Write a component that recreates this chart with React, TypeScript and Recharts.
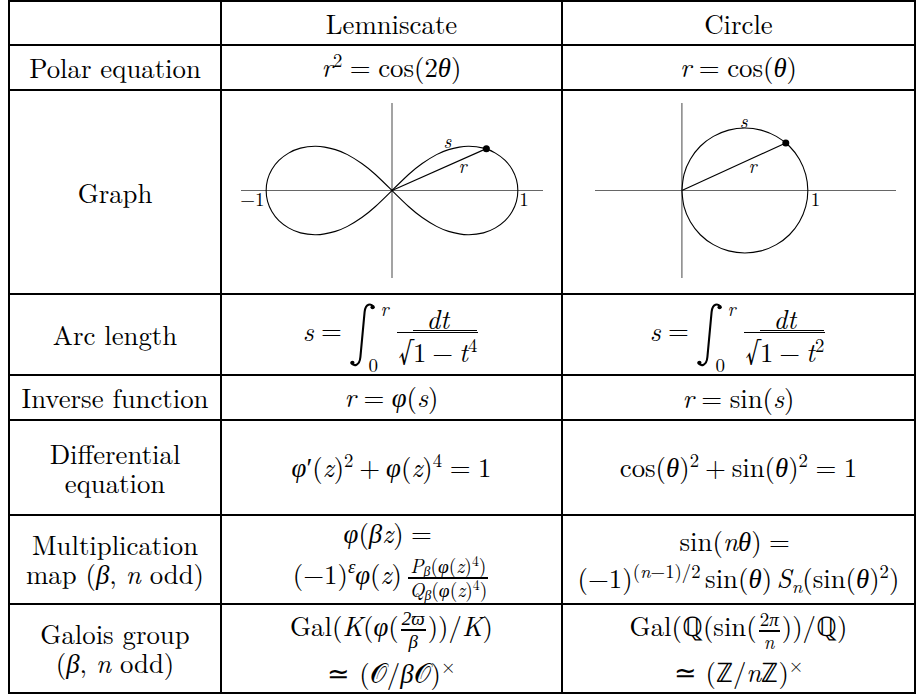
import React from "react";
import {
  ComposedChart,
  Line,
  XAxis,
  YAxis,
  ReferenceLine,
  ReferenceDot,
} from "recharts";

const serif = '"Latin Modern Roman", serif';
const greek = '"Liberation Serif"';

// column headings
const columns = ["Lemniscate", "Circle"];

// lemniscate r^2 = cos(2θ) (unit = radius 1)
const lemX = [
  0, 0.134, 0.24, 0.354, 0.45, 0.535, 0.612, 0.727, 0.822, 0.899, 0.955, 0.989, 1, 0.989, 0.955,
  0.899, 0.822, 0.727, 0.612, 0.535, 0.45, 0.354, 0.24, 0.134, 0, -0.134, -0.24, -0.354, -0.45,
  -0.535, -0.612, -0.727, -0.822, -0.899, -0.955, -0.989, -1, -0.989, -0.955, -0.899, -0.822,
  -0.727, -0.612, -0.535, -0.45, -0.354, -0.24, -0.134, 0,
];
const lemY = [
  0, 0.13, 0.216, 0.287, 0.327, 0.347, 0.354, 0.339, 0.299, 0.241, 0.168, 0.087, 0, -0.087, -0.168,
  -0.241, -0.299, -0.339, -0.354, -0.347, -0.327, -0.287, -0.216, -0.13, 0, 0.13, 0.216, 0.287,
  0.327, 0.347, 0.354, 0.339, 0.299, 0.241, 0.168, 0.087, 0, -0.087, -0.168, -0.241, -0.299,
  -0.339, -0.354, -0.347, -0.327, -0.287, -0.216, -0.13, 0,
];
const lemPoint = [0.75, 0.335];

// circle r = cos(θ)
const circX = [
  0, 0.017, 0.067, 0.146, 0.25, 0.371, 0.5, 0.629, 0.75, 0.854, 0.933, 0.983, 1, 0.983, 0.933,
  0.854, 0.75, 0.629, 0.5, 0.371, 0.25, 0.146, 0.067, 0.017, 0,
];
const circY = [
  0, 0.129, 0.25, 0.354, 0.433, 0.483, 0.5, 0.483, 0.433, 0.354, 0.25, 0.129, 0, -0.129, -0.25,
  -0.354, -0.433, -0.483, -0.5, -0.483, -0.433, -0.354, -0.25, -0.129, 0,
];
const circPoint = [0.825, 0.38];

// graph annotations
const lemLabels = [
  { text: "s", x: 0.44, y: 0.39, italic: true },
  { text: "r", x: 0.56, y: 0.19, italic: true },
  { text: "−1", x: -1.11, y: -0.07, italic: false },
  { text: "1", x: 1.05, y: -0.07, italic: false },
];
const circLabels = [
  { text: "s", x: 0.49, y: 0.55, italic: true },
  { text: "r", x: 0.56, y: 0.19, italic: true },
  { text: "1", x: 1.06, y: -0.07, italic: false },
];

type P = { children?: React.ReactNode };
const I = ({ children }: P) => <span style={{ fontStyle: "italic" }}>{children}</span>;
// greek letters: LM has no italic greek
const G = ({ children }: P) => (
  <span style={{ fontStyle: "italic", fontFamily: greek }}>{children}</span>
);
const Sym = ({ children }: P) => <span style={{ fontFamily: greek }}>{children}</span>;
const Sup = ({ children }: P) => (
  <span style={{ fontSize: "0.7em", verticalAlign: "0.55em", lineHeight: 0 }}>{children}</span>
);
const Sub = ({ children }: P) => (
  <span style={{ fontSize: "0.7em", verticalAlign: "-0.25em", lineHeight: 0 }}>{children}</span>
);
const Eq = () => <span style={{ margin: "0 0.28em" }}>=</span>;
const Op = ({ children }: P) => <span style={{ margin: "0 0.22em" }}>{children}</span>;
const Th = () => <span style={{ marginLeft: "0.17em" }} />;

function Frac({ num, den, size, bar = 1.5 }: any) {
  return (
    <span
      style={{
        display: "inline-flex",
        flexDirection: "column",
        alignItems: "center",
        verticalAlign: "middle",
        fontSize: size,
        lineHeight: 1.05,
        margin: "0 2px",
      }}
    >
      <span style={{ padding: "0 1px" }}>{num}</span>
      <span style={{ borderTop: `${bar}px solid #000`, alignSelf: "stretch" }} />
      <span style={{ padding: "0 1px" }}>{den}</span>
    </span>
  );
}

function Sqrt({ children }: P) {
  return (
    <span style={{ whiteSpace: "nowrap" }}>
      <span style={{ fontSize: "1.15em" }}>√</span>
      <span style={{ borderTop: "1.5px solid #000", paddingTop: 1 }}>{children}</span>
    </span>
  );
}

// big display integral sign with its limits
function Integral({ upper, lower }: { upper: string; lower: string }) {
  return (
    <span
      style={{
        display: "inline-block",
        position: "relative",
        width: 46,
        height: 66,
        verticalAlign: "middle",
      }}
    >
      <svg width={28} height={66} style={{ position: "absolute", left: 0, top: 0 }}>
        <path
          d="M24.5 5 C22 1, 16.5 1.5, 15.6 10 L11.4 55 C10.5 64, 5 64.5, 2.5 61"
          fill="none"
          stroke="#000"
          strokeWidth={2.1}
          strokeLinecap="round"
        />
        <circle cx={23.6} cy={5.2} r={2.1} fill="#000" />
        <circle cx={3.4} cy={60.8} r={2.1} fill="#000" />
      </svg>
      <span
        style={{ position: "absolute", left: 31, top: -3, fontSize: 19, lineHeight: "19px", fontStyle: "italic" }}
      >
        {upper}
      </span>
      <span style={{ position: "absolute", left: 19, bottom: -6, fontSize: 19, lineHeight: "19px" }}>
        {lower}
      </span>
    </span>
  );
}

function CurveChart({ xs, ys, point, domainX, labels, width, margin }: any) {
  const curve = xs.map((x: number, i: number) => ({ x, y: ys[i] }));
  const radius = [
    { x: 0, y: 0 },
    { x: point[0], y: point[1] },
  ];
  return (
    <ComposedChart width={width} height={202} margin={margin}>
      <XAxis type="number" dataKey="x" domain={domainX} hide allowDataOverflow />
      <YAxis type="number" domain={[-0.7, 0.7]} hide allowDataOverflow />
      <ReferenceLine x={0} stroke="#666" strokeWidth={1.2} />
      <ReferenceLine y={0} stroke="#666" strokeWidth={1.2} />
      <Line
        data={curve}
        dataKey="y"
        type="natural"
        stroke="#000"
        strokeWidth={1.1}
        dot={false}
        activeDot={false}
        isAnimationActive={false}
      />
      <Line
        data={radius}
        dataKey="y"
        type="linear"
        stroke="#000"
        strokeWidth={1.1}
        dot={false}
        activeDot={false}
        isAnimationActive={false}
      />
      <ReferenceDot x={point[0]} y={point[1]} r={3.5} fill="#000" stroke="none" />
      {labels.map((l: any) => (
        <ReferenceDot
          key={l.text}
          x={l.x}
          y={l.y}
          r={0}
          fill="none"
          stroke="none"
          label={{
            value: l.text,
            position: "center",
            fill: "#000",
            fontSize: 19,
            fontFamily: serif,
            fontStyle: l.italic ? "italic" : "normal",
          }}
        />
      ))}
    </ComposedChart>
  );
}

const cell: React.CSSProperties = {
  background: "#fff",
  display: "flex",
  flexDirection: "column",
  alignItems: "center",
  justifyContent: "center",
  textAlign: "center",
  whiteSpace: "nowrap",
};

const C = ({ children, gap = 0 }: { children?: React.ReactNode; gap?: number }) => (
  <div style={{ ...cell, gap }}>{children}</div>
);

export default function App() {
  return (
    <div
      style={{
        position: "absolute",
        left: 8,
        top: 0,
        display: "grid",
        gridTemplateColumns: "210px 339px 351px",
        gridTemplateRows: "42px 43px 202px 79px 43px 93px 87px 87px",
        gap: 2,
        padding: 2,
        background: "#000",
        fontFamily: serif,
        fontSize: 26.8,
        lineHeight: "29px",
        color: "#000",
      }}
    >
      <C />
      <C>{columns[0]}</C>
      <C>{columns[1]}</C>

      <C>Polar equation</C>
      <C>
        <span>
          <I>r</I>
          <Sup>2</Sup>
          <Eq />
          cos(2<G>θ</G>)
        </span>
      </C>
      <C>
        <span>
          <I>r</I>
          <Eq />
          cos(<G>θ</G>)
        </span>
      </C>

      <C>Graph</C>
      <div style={{ ...cell, justifyContent: "flex-start" }}>
        <CurveChart
          xs={lemX}
          ys={lemY}
          point={lemPoint}
          domainX={[-1.2, 1.2]}
          labels={lemLabels}
          width={339}
          margin={{ top: 12, right: 18, bottom: 15, left: 19 }}
        />
      </div>
      <div style={{ ...cell, justifyContent: "flex-start" }}>
        <CurveChart
          xs={circX}
          ys={circY}
          point={circPoint}
          domainX={[-0.69, 1.7]}
          labels={circLabels}
          width={351}
          margin={{ top: 12, right: 18, bottom: 15, left: 32 }}
        />
      </div>

      <C>Arc length</C>
      <C>
        <span>
          <I>s</I>
          <Eq />
          <Integral upper="r" lower="0" />
          <Frac
            num={<I>dt</I>}
            den={
              <Sqrt>
                1<Op>−</Op>
                <I>t</I>
                <Sup>4</Sup>
              </Sqrt>
            }
          />
        </span>
      </C>
      <C>
        <span>
          <I>s</I>
          <Eq />
          <Integral upper="r" lower="0" />
          <Frac
            num={<I>dt</I>}
            den={
              <Sqrt>
                1<Op>−</Op>
                <I>t</I>
                <Sup>2</Sup>
              </Sqrt>
            }
          />
        </span>
      </C>

      <C>Inverse function</C>
      <C>
        <span>
          <I>r</I>
          <Eq />
          <G>φ</G>(<I>s</I>)
        </span>
      </C>
      <C>
        <span>
          <I>r</I>
          <Eq />
          sin(<I>s</I>)
        </span>
      </C>

      <C>
        <span>Differential</span>
        <span>equation</span>
      </C>
      <C>
        <span>
          <G>φ</G>′(<I>z</I>)<Sup>2</Sup>
          <Op>+</Op>
          <G>φ</G>(<I>z</I>)<Sup>4</Sup>
          <Eq />1
        </span>
      </C>
      <C>
        <span>
          cos(<G>θ</G>)<Sup>2</Sup>
          <Op>+</Op>
          sin(<G>θ</G>)<Sup>2</Sup>
          <Eq />1
        </span>
      </C>

      <C>
        <span>Multiplication</span>
        <span>
          map (<G>β</G>, <I>n</I> odd)
        </span>
      </C>
      <C gap={6}>
        <span>
          <G>φ</G>(<G>β</G>
          <I>z</I>)<Eq />
        </span>
        <span>
          (−1)
          <Sup>
            <G>ε</G>
          </Sup>
          <G>φ</G>(<I>z</I>)<Th />
          <Frac
            size={19.5}
            bar={2.5}
            num={
              <>
                <I>P</I>
                <Sub>
                  <G>β</G>
                </Sub>
                (<G>φ</G>(<I>z</I>)<Sup>4</Sup>)
              </>
            }
            den={
              <>
                <I>Q</I>
                <Sub>
                  <G>β</G>
                </Sub>
                (<G>φ</G>(<I>z</I>)<Sup>4</Sup>)
              </>
            }
          />
        </span>
      </C>
      <C gap={6}>
        <span>
          sin(<I>n</I>
          <G>θ</G>)<Eq />
        </span>
        <span>
          (−1)
          <Sup>
            (<I>n</I>−1)/2
          </Sup>
          <Th />
          sin(<G>θ</G>)<Th />
          <I>S</I>
          <Sub>
            <I>n</I>
          </Sub>
          (sin(<G>θ</G>)<Sup>2</Sup>)
        </span>
      </C>

      <C>
        <span>Galois group</span>
        <span>
          (<G>β</G>, <I>n</I> odd)
        </span>
      </C>
      <C gap={6}>
        <span>
          Gal(<I>K</I>(<G>φ</G>(
          <Frac size={19} bar={2} num={<G>2ϖ</G>} den={<G>β</G>} />
          ))/<I>K</I>)
        </span>
        <span>
          <Sym>≃</Sym> (𝒪/<G>β</G>𝒪)<Sup>×</Sup>
        </span>
      </C>
      <C gap={6}>
        <span>
          Gal(ℚ(sin(
          <Frac
            size={19}
            bar={2}
            num={
              <>
                2<G>π</G>
              </>
            }
            den={<I>n</I>}
          />
          ))/ℚ)
        </span>
        <span>
          <Sym>≃</Sym> (ℤ/<I>n</I>ℤ)<Sup>×</Sup>
        </span>
      </C>
    </div>
  );
}
